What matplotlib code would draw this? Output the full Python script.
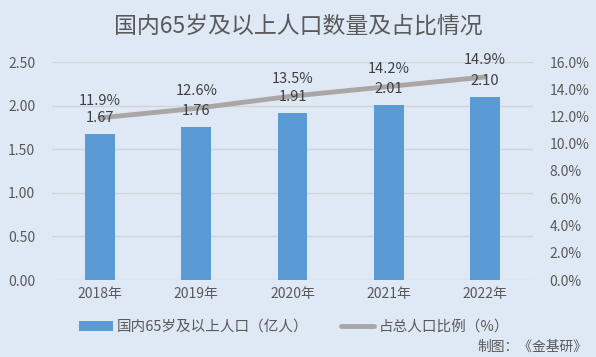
import numpy as np
import matplotlib.pyplot as plt
from matplotlib.ticker import FuncFormatter

plt.rcParams['font.family'] = ['Noto Sans CJK SC', 'DejaVu Sans']

years = ['2018年', '2019年', '2020年', '2021年', '2022年']
pop = [1.67, 1.76, 1.91, 2.01, 2.10]
ratio = [11.9, 12.6, 13.5, 14.2, 14.9]

bg = '#dee9f5'
txt = '#595959'

fig = plt.figure(figsize=(5.96, 3.57), dpi=100, facecolor=bg)
ax = fig.add_axes([52/596, 1 - 280/357, 481/596, 218/357])
ax.set_facecolor(bg)
ax2 = ax.twinx()

x = np.arange(len(years))
bars = ax.bar(x, pop, width=0.31, color='#5b9bd5', zorder=2, label='国内65岁及以上人口（亿人）')
line, = ax2.plot(x, ratio, color='#aaa6a6', lw=3.5, solid_capstyle='round', zorder=3,
                 label='占总人口比例（%）')

ax.set_xlim(-0.5, len(years) - 0.5)
ax.set_ylim(0, 2.5)
ax.set_yticks(np.arange(0, 2.51, 0.5))
ax.yaxis.set_major_formatter(FuncFormatter(lambda v, p: f'{v:.2f}'))
ax2.set_ylim(0, 16)
ax2.set_yticks(np.arange(0, 16.1, 2))
ax2.yaxis.set_major_formatter(FuncFormatter(lambda v, p: f'{v:.1f}%'))
ax.set_xticks(x)
ax.set_xticklabels(years)

ax.grid(axis='y', color='#d0d4d8', lw=1, zorder=0)
for a in (ax, ax2):
    for s in a.spines.values():
        s.set_visible(False)
    a.tick_params(length=0, labelsize=10, colors=txt)
ax.tick_params(axis='y', pad=12)
ax2.tick_params(axis='y', pad=12)
ax.tick_params(axis='x', pad=5)

# labels drawn on ax2 so they sit on top of the line
for xi, v in zip(x, pop):
    ax2.annotate(f'{v:.2f}', (xi, v), xycoords=ax.transData, xytext=(0, 11.5),
                 textcoords='offset points', ha='center', va='center',
                 fontsize=10.5, color='#404040', zorder=5)
for xi, v in zip(x, ratio):
    ax2.annotate(f'{v:.1f}%', (xi, v), xytext=(0, 12.5), textcoords='offset points',
                 ha='center', va='center', fontsize=10.5, color='#404040', zorder=5)

fig.text(0.5, 1 - 27/357, '国内65岁及以上人口数量及占比情况', ha='center', va='center',
         fontsize=16.5, color=txt)

fig.legend([bars, line], ['国内65岁及以上人口（亿人）', '占总人口比例（%）'],
           loc='center', bbox_to_anchor=(294/596, 1 - 327/357), ncol=2, frameon=False,
           fontsize=10.5, labelcolor=txt, handlelength=2.3, handletextpad=0.3,
           columnspacing=2.2)

fig.text(587/596, 1 - 347/357, '制图：《金基研》', ha='right', va='center',
         fontsize=9.9, color=txt)

fig.savefig('out.png', dpi=100, facecolor=bg)
